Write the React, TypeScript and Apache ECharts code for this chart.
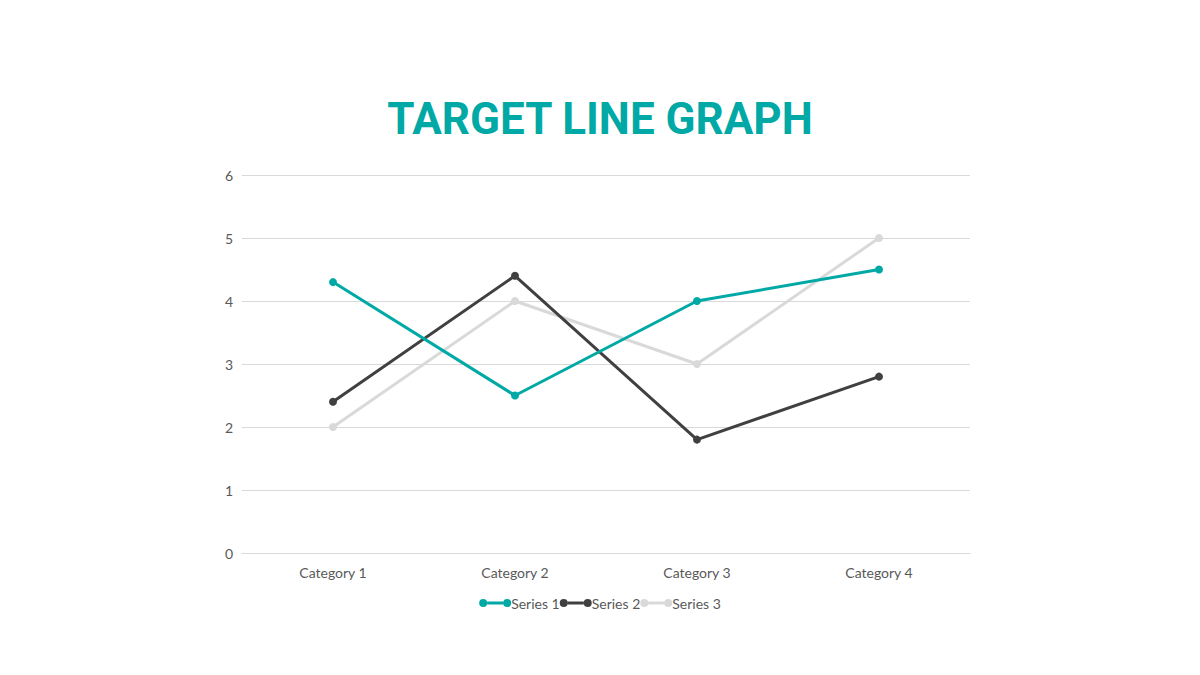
import React, { useEffect, useRef } from 'react';
import * as echarts from 'echarts';

const categories = ['Category 1', 'Category 2', 'Category 3', 'Category 4'];
const series1 = [4.3, 2.5, 4.0, 4.5];
const series2 = [2.4, 4.4, 1.8, 2.8];
const series3 = [2.0, 4.0, 3.0, 5.0];
const seriesNames = ['Series 1', 'Series 2', 'Series 3'];
const colors = ['#00A9A5', '#404040', '#D9D9D9'];

// line with a dot at each end, like the legend marks in the picture
const legendIcon =
  'path://M0,4a4,4 0 1,1 8,0a4,4 0 1,1 -8,0Z M8,2.5h16v3h-16Z M24,4a4,4 0 1,1 8,0a4,4 0 1,1 -8,0Z';

const labelFont = 'Lato';

const App: React.FC = () => {
  const chartRef = useRef<HTMLDivElement | null>(null);

  useEffect(() => {
    if (!chartRef.current) return;
    const chart = echarts.init(chartRef.current, undefined, { renderer: 'svg' });

    const data = [series1, series2, series3];

    chart.setOption({
      animation: false,
      backgroundColor: '#ffffff',
      title: {
        text: 'TARGET LINE GRAPH',
        left: 'center',
        top: 92,
        textStyle: {
          fontFamily: 'Roboto',
          fontWeight: 'bold',
          fontSize: 44,
          color: '#00A9A5',
        },
      },
      legend: {
        data: seriesNames,
        bottom: 60,
        left: 'center',
        icon: legendIcon,
        itemWidth: 32,
        itemHeight: 8,
        itemGap: 0,
        textStyle: {
          fontFamily: labelFont,
          fontSize: 14,
          color: '#595959',
          padding: [0, 0, 0, -5],
        },
      },
      grid: {
        left: 242,
        right: 230,
        top: 175,
        bottom: 122,
        containLabel: false,
      },
      xAxis: {
        type: 'category',
        data: categories,
        boundaryGap: true,
        axisLine: { lineStyle: { color: '#D9D9D9' } },
        axisTick: { show: false },
        axisLabel: {
          fontFamily: labelFont,
          fontSize: 14,
          color: '#595959',
          margin: 12,
        },
      },
      yAxis: {
        type: 'value',
        min: 0,
        max: 6,
        interval: 1,
        axisLine: { show: false },
        axisTick: { show: false },
        splitLine: { lineStyle: { color: '#D9D9D9' } },
        axisLabel: {
          fontFamily: labelFont,
          fontSize: 14,
          color: '#595959',
          margin: 9,
        },
      },
      series: seriesNames.map((name, i) => ({
        name,
        type: 'line',
        data: data[i],
        symbol: 'circle',
        symbolSize: 8,
        z: 3 - i,
        lineStyle: { width: 3, color: colors[i] },
        itemStyle: { color: colors[i] },
      })),
    });

    return () => {
      chart.dispose();
    };
  }, []);

  return (
    <div
      ref={chartRef}
      style={{ position: 'absolute', left: 0, top: 0, width: '1200px', height: '675px' }}
    />
  );
};

export default App;
